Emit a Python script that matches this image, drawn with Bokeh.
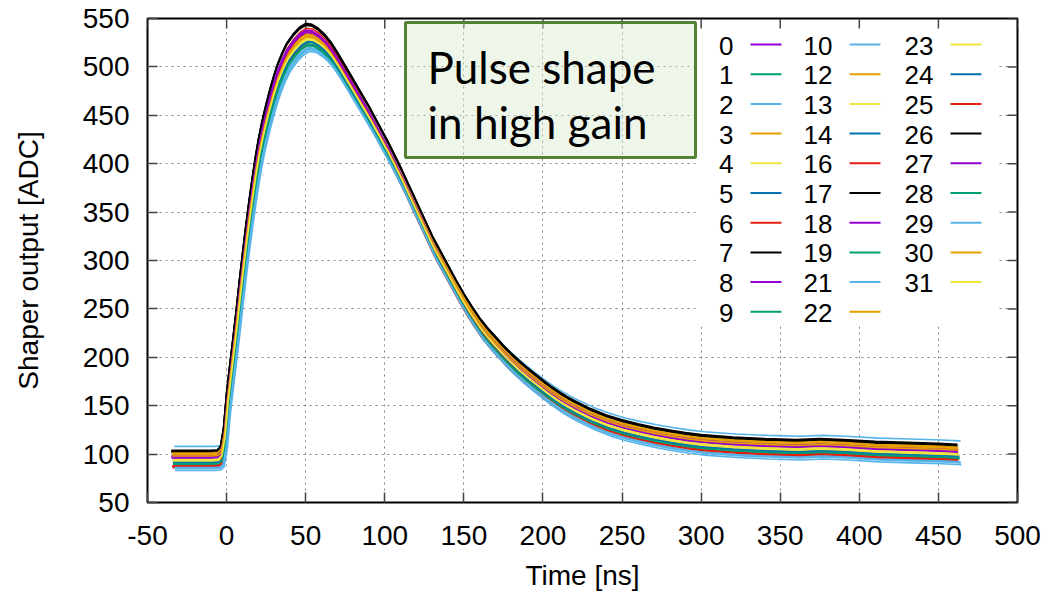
import numpy as np
from bokeh.plotting import figure
from bokeh.models import BoxAnnotation, Label, FixedTicker
from bokeh.embed import file_html
from bokeh.resources import INLINE
from bokeh.core.properties import value

# ---------------- data ----------------
# average pulse shape (ADC) sampled in time (ns)
time_ns = [-35, -30, -25, -20, -15, -10, -6, -4, -2, 0, 2, 4, 6, 8, 10, 12, 14, 16, 18, 20,
           22, 24, 26, 28, 30, 32, 35, 38, 42, 46, 50, 54, 58, 62, 66, 70, 74, 78, 82, 86,
           90, 94, 98, 102, 106, 110, 114, 118, 122, 126, 130, 135, 140, 145, 150, 155, 160,
           165, 170, 175, 180, 185, 190, 195, 200, 205, 210, 215, 220, 230, 240, 250, 260,
           270, 280, 290, 300, 320, 340, 360, 375, 390, 410, 430, 450, 462]
mean_shape = [95, 95, 95, 95, 95, 95, 95.5, 99, 118, 155, 183, 210, 238, 268, 296, 323, 348,
              371, 393, 412, 428, 442, 455, 467, 478, 488, 500, 510, 519, 526, 530, 529, 525,
              519, 511, 501, 490, 479, 468, 457, 446, 434, 422, 410, 397, 384, 370, 356, 342,
              328, 314, 299, 284, 269, 255, 242, 230, 220, 211, 202, 194, 186.5, 179.5, 173,
              166.5, 160.5, 155, 150, 145.5, 137.5, 131, 126, 122, 118.5, 115.5, 113, 111,
              108.5, 107, 106, 107, 106, 104, 103, 102, 101]

channels = [0, 1, 2, 3, 4, 5, 6, 7, 8, 9, 10, 12, 13, 14, 16, 17, 18, 19, 21, 22, 23, 24,
            25, 26, 27, 28, 29, 30, 31]
baseline = [97, 91, 108, 99, 94, 93, 87, 103, 96, 90, 83, 100, 95, 92, 86, 102, 98, 89, 85,
            101, 93, 91, 88, 104, 96, 90, 86, 98, 94]
peak = [537, 526, 520, 533, 530, 528, 540, 545, 535, 524, 516, 532, 529, 527, 523, 543, 538,
        522, 518, 534, 528, 526, 536, 544, 536, 523, 519, 531, 529]
delay_ns = [0.0, 1.0, 2.0, 0.5, 1.0, 1.0, 0.5, 0.0, 0.3, 1.2, 2.5, 0.6, 1.0, 1.2, 1.0, 0.0,
            0.2, 1.4, 2.2, 0.5, 1.1, 1.3, 0.6, 0.1, 0.4, 1.3, 2.0, 0.7, 1.0]

x_ticks = [-50, 0, 50, 100, 150, 200, 250, 300, 350, 400, 450, 500]
y_ticks = [50, 100, 150, 200, 250, 300, 350, 400, 450, 500, 550]

palette = ["#9400d3", "#009e73", "#56b4e9", "#e69f00", "#f0e442", "#0072b2", "#e51e10", "#000000"]

# ---------------- layout ----------------
W, H = 1048, 595
FL, FR, FT, FB = 147, 1017, 18, 502          # frame edges in pixels
X0, X1, Y0, Y1 = -50, 500, 50, 550
TICK = 10


def px2x(px):
    return X0 + (px - FL) / (FR - FL) * (X1 - X0)


def px2y(py):
    return Y0 + (FB - py) / (FB - FT) * (Y1 - Y0)


FONT = "Liberation Sans"

p = figure(width=W, height=H, x_range=(X0, X1), y_range=(Y0, Y1),
           output_backend="svg", toolbar_location=None,
           min_border_left=FL, min_border_right=W - FR, min_border_top=FT,
           min_border_bottom=H - FB)
p.background_fill_color = "white"
p.border_fill_color = "white"
p.outline_line_color = "black"
p.outline_line_width = 2
p.outline_line_alpha = 1.0

for ax in (p.xaxis[0], p.yaxis[0]):
    ax.axis_line_color = None
    ax.major_tick_in = TICK
    ax.major_tick_out = 0
    ax.major_tick_line_color = "#444444"
    ax.major_tick_line_width = 1.5
    ax.minor_tick_line_color = None
    ax.major_label_text_font = FONT
    ax.major_label_text_font_size = "28px"
    ax.major_label_text_color = "black"
    ax.axis_label_text_font = FONT
    ax.axis_label_text_font_size = "28px"
    ax.axis_label_text_font_style = "normal"
    ax.axis_label_text_color = "black"

p.xaxis[0].ticker = FixedTicker(ticks=x_ticks)
p.yaxis[0].ticker = FixedTicker(ticks=y_ticks)
p.xaxis[0].major_label_overrides = {x_ticks[0]: "-50"}
p.xaxis[0].axis_label = "Time [ns]"
p.yaxis[0].axis_label = "Shaper output [ADC]"
p.xaxis[0].major_label_standoff = 23
p.yaxis[0].major_label_standoff = 18
p.xaxis[0].axis_label_standoff = 12
p.yaxis[0].axis_label_standoff = 36

for g in (p.xgrid[0], p.ygrid[0]):
    g.grid_line_color = "#777777"
    g.grid_line_dash = "2 4"
    g.grid_line_width = 1
    g.grid_line_alpha = 0.9
p.xgrid[0].ticker = FixedTicker(ticks=x_ticks)
p.ygrid[0].ticker = FixedTicker(ticks=y_ticks)

# legend background (opaque key)
p.quad(left=[px2x(697)], right=[px2x(998)], top=[px2y(20)], bottom=[px2y(326)],
       fill_color="white", line_color=None)

# mirror tick marks on the top and right border
p.segment(x0=x_ticks, y0=[Y1] * len(x_ticks), x1=x_ticks, y1=[px2y(FT + TICK)] * len(x_ticks),
          line_color="#444444", line_width=1.5)
p.segment(x0=[X1] * len(y_ticks), y0=y_ticks, x1=[px2x(FR - TICK)] * len(y_ticks), y1=y_ticks,
          line_color="#444444", line_width=1.5)

# ---------------- curves ----------------
t = np.array(time_ns, dtype=float)
s = np.array(mean_shape, dtype=float)
s_norm = (s - s[0]) / (s.max() - s[0])
for i, ch in enumerate(channels):
    col = palette[i % len(palette)]
    y = baseline[i] + s_norm * (peak[i] - baseline[i])
    p.line(t + delay_ns[i], y, line_color=col, line_width=1.6)

# ---------------- legend (label then sample, gnuplot style) ----------------
ROW0, DROW = 44, 29.7
COL_TXT = [733, 832, 933]
SAMPLE = (17, 48)
lx, ly, lt, sx0, sx1, sy, sc = [], [], [], [], [], [], []
for i, ch in enumerate(channels):
    c, r = divmod(i, 10)
    ypx = ROW0 + r * DROW
    lx.append(px2x(COL_TXT[c]))
    ly.append(px2y(ypx + 1))
    lt.append(str(ch))
    sx0.append(px2x(COL_TXT[c] + SAMPLE[0]))
    sx1.append(px2x(COL_TXT[c] + SAMPLE[1]))
    sy.append(px2y(ypx))
    sc.append(palette[i % len(palette)])
p.text(x=lx, y=ly, text=lt, text_font=value(FONT), text_font_size="26px",
       text_align="right", text_baseline="middle", text_color="black")
p.segment(x0=sx0, y0=sy, x1=sx1, y1=sy, line_color=sc, line_width=2)

# ---------------- annotation box ----------------
box = BoxAnnotation(left=px2x(405), right=px2x(695), top=px2y(22), bottom=px2y(157),
                    fill_color="#d9ead0", fill_alpha=0.45, line_color="#548235",
                    line_width=3, line_alpha=1.0)
p.add_layout(box)
for txt, base in (("Pulse shape", 66), ("in high gain", 121)):
    p.add_layout(Label(x=px2x(427), y=px2y(base), text=txt, text_font="Lato",
                       text_font_size="44px", text_color="black",
                       text_baseline="alphabetic", text_align="left"))

open("out.html", "w").write(file_html(p, INLINE))
